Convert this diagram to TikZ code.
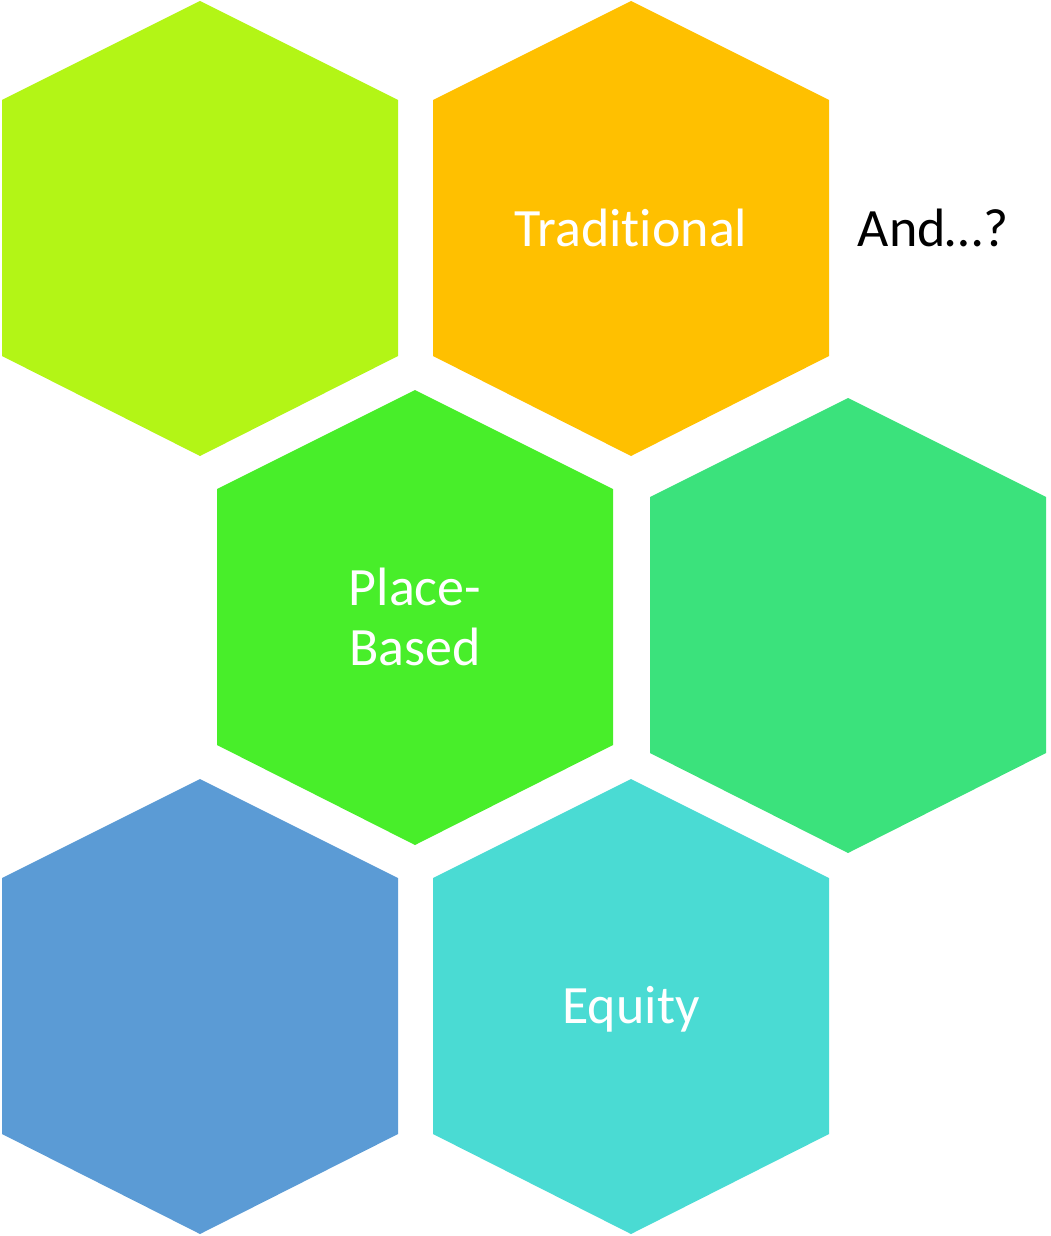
\documentclass[tikz,border=0pt]{standalone}
\usepackage{fontspec}
\setmainfont{Carlito}[RawFeature=-liga]
\definecolor{hlime}{HTML}{B3F516}
\definecolor{horange}{HTML}{FFC000}
\definecolor{hgreen}{HTML}{48EE2A}
\definecolor{hsea}{HTML}{3BE27C}
\definecolor{hblue}{HTML}{5B9BD5}
\definecolor{hturq}{HTML}{4ADBD3}
\begin{document}
\begin{tikzpicture}[x=1pt,y=-1pt,
  lbl/.style={text=white,font=\fontsize{54}{60}\selectfont,align=center,inner sep=0pt},
  lblb/.style={text=black,font=\fontsize{54}{60}\selectfont,align=center,inner sep=0pt}]
\useasboundingbox (0,0) rectangle (1051,1236);
% hexagon: center x, top y
\newcommand{\hexat}[3]{%
  \fill[#3] (#1,#2) -- (#1+198,#2+99) -- (#1+198,#2+355) -- (#1,#2+455)
    -- (#1-198,#2+355) -- (#1-198,#2+99) -- cycle;}
\hexat{200}{1}{hlime}
\hexat{631}{1}{horange}
\hexat{415}{390}{hgreen}
\hexat{848}{398}{hsea}
\hexat{200}{779}{hblue}
\hexat{631}{779}{hturq}
\node[lbl] (trad) at (631,228) {Traditional};
\node[lblb] (and) at (933,228) {And…?};
\node[lbl] (place) at (415,617) {Place-\\Based};
\node[lbl] (eq) at (631,1009) {Equity};
\end{tikzpicture}
\end{document}
